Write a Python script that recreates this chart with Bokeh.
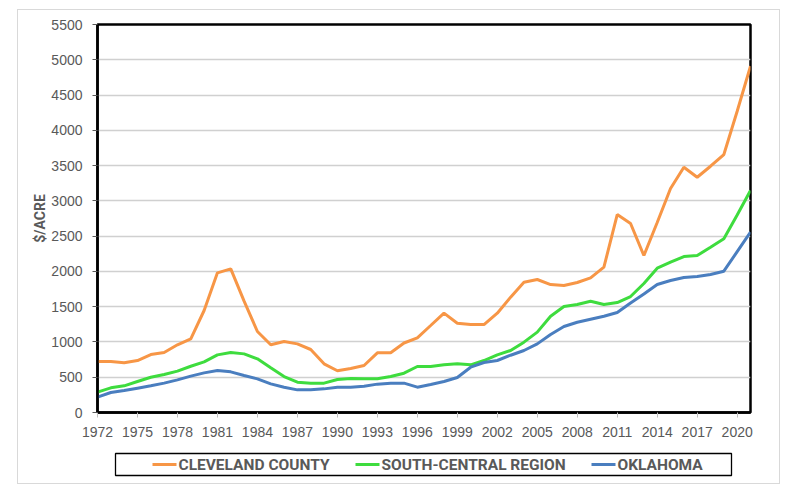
from bokeh.plotting import figure
from bokeh.models import Range1d, FixedTicker
from bokeh.layouts import column
from bokeh.core.properties import value
from bokeh.embed import file_html
from bokeh.resources import INLINE

years = list(range(1972, 2022))
x_ticks = list(range(1972, 2021, 3))
y_ticks = list(range(0, 5501, 500))

cleveland = [723, 723, 705, 737, 822, 850, 960, 1045, 1446, 1980,
             2036, 1578, 1148, 960, 1006, 973, 893, 690, 592, 624,
             666, 846, 846, 985, 1059, 1233, 1408, 1266, 1247, 1247,
             1408, 1635, 1847, 1885, 1814, 1800, 1843, 1909, 2060, 2806,
             2679, 2225, 2693, 3175, 3477, 3335, 3491, 3657, 4270, 4910]
south_central = [288, 350, 378, 439, 500, 539, 586, 656, 718, 817,
                 850, 831, 761, 633, 510, 430, 416, 416, 468, 482,
                 477, 477, 510, 557, 652, 652, 676, 690, 676, 737,
                 817, 879, 997, 1139, 1365, 1502, 1531, 1578, 1531, 1559,
                 1644, 1829, 2045, 2131, 2211, 2225, 2343, 2462, 2800, 3147]
oklahoma = [217, 283, 312, 345, 378, 416, 463, 515, 562, 595,
            576, 524, 477, 406, 359, 321, 321, 335, 359, 359,
            373, 402, 416, 416, 359, 397, 439, 496, 642, 709,
            737, 812, 879, 973, 1106, 1219, 1280, 1323, 1365, 1417,
            1553, 1680, 1814, 1871, 1913, 1928, 1956, 2003, 2280, 2556]

series_names = ["CLEVELAND COUNTY", "SOUTH-CENTRAL REGION", "OKLAHOMA"]
colors = ["#F79646", "#3EDC3E", "#4A7EBF"]

W = 761
BL, BR = 79, 29

# ---------------- main chart ----------------
p = figure(width=W, height=440, output_backend="svg", toolbar_location=None,
           x_range=Range1d(1972, 2021), y_range=Range1d(0, 5500),
           min_border_left=BL, min_border_right=BR, min_border_top=14,
           min_border_bottom=38)
p.background_fill_color = "white"
p.border_fill_color = "white"
p.outline_line_color = "black"
p.outline_line_width = 2.5

for vals, c in zip([cleveland, south_central, oklahoma], colors):
    p.line(years, vals, line_color=c, line_width=3)

p.xaxis.ticker = FixedTicker(ticks=x_ticks)
p.yaxis.ticker = FixedTicker(ticks=y_ticks)
for ax in (p.xaxis, p.yaxis):
    ax.axis_line_color = "black"
    ax.axis_line_width = 2.5
    ax.major_tick_in = 0
    ax.major_tick_out = 5
    ax.minor_tick_line_color = None
    ax.major_label_text_font = "Liberation Sans"
    ax.major_label_text_font_size = "14px"
    ax.major_label_text_color = "#595959"
p.xaxis.major_tick_line_color = "#bfbfbf"
p.yaxis.major_tick_line_color = "#595959"
p.xaxis.major_label_standoff = 9
p.yaxis.major_label_standoff = 10
p.yaxis.axis_label = "$/ACRE"
p.yaxis.axis_label_text_font = "Roboto"
p.yaxis.axis_label_text_font_style = "bold"
p.yaxis.axis_label_text_font_size = "14px"
p.yaxis.axis_label_text_color = "#595959"
p.yaxis.axis_label_standoff = 0

p.xgrid.grid_line_color = None
p.ygrid.grid_line_color = "#d0d0d0"
p.ygrid.grid_line_width = 1.5

# ---------------- legend strip (pixel coordinates) ----------------
frame_w = W - BL - BR
LH = 33
box = dict(left=18, right=634, bottom=8, top=30)
item_start = [55, 258, 494]
glyph_w = 24
leg = figure(width=W, height=LH, output_backend="svg", toolbar_location=None,
             x_range=Range1d(0, frame_w), y_range=Range1d(0, LH),
             min_border_left=BL, min_border_right=BR, min_border_top=0,
             min_border_bottom=0)
leg.axis.visible = False
leg.grid.visible = False
leg.outline_line_color = None
leg.background_fill_color = "white"
leg.border_fill_color = "white"
leg.quad(left=[box["left"]], right=[box["right"]], bottom=[box["bottom"]], top=[box["top"]],
         fill_color=None, line_color="black", line_width=1.3)
mid = (box["bottom"] + box["top"]) / 2
x0 = item_start
x1 = [s + glyph_w for s in item_start]
tx = [s + glyph_w + 2 for s in item_start]
leg.segment(x0=x0, y0=[mid] * 3, x1=x1, y1=[mid] * 3, line_color=colors, line_width=3)
leg.text(x=tx, y=[mid - 0.5] * 3, text=series_names, text_font=value("Roboto"),
         text_font_style="bold", text_font_size="15.5px", text_color="#595959",
         text_baseline="middle", text_align="left")

layout = column(p, leg, spacing=0, margin=(9, 0, 0, 17))
layout.styles = {"border": "1px solid #d9d9d9"}

open("out.html", "w").write(file_html(layout, INLINE))
